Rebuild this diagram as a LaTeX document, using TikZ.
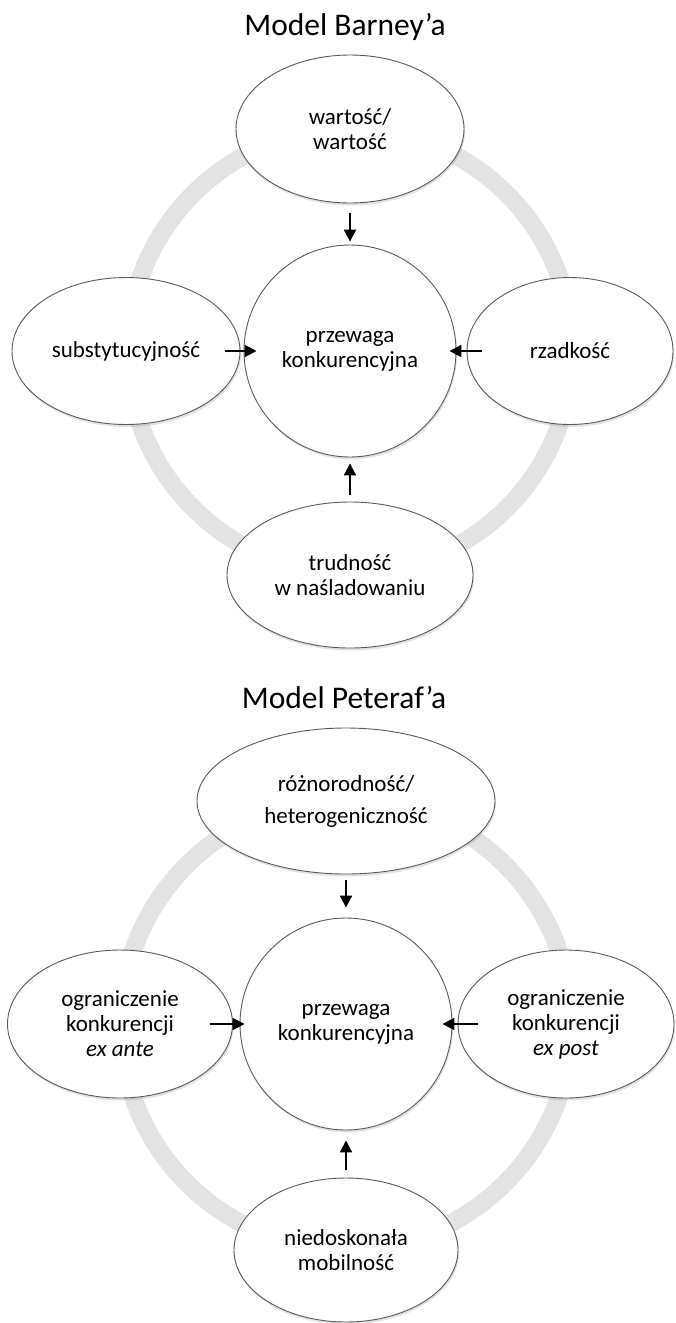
\documentclass[tikz,border=0pt]{standalone}
\usepackage{fontspec}
\setmainfont{Carlito}
\usetikzlibrary{shapes.geometric,arrows.meta,shadows}
\begin{document}
\begin{tikzpicture}[x=1pt,y=-1pt,
  ring/.style={draw=gray!22, line width=18pt},
  bubble/.style={ellipse, draw=black!65, line width=0.9pt, fill=white,
    inner sep=0pt, align=center, font=\fontsize{23}{25}\selectfont,
    drop shadow={opacity=0.22, shadow xshift=1pt, shadow yshift=-2.5pt}},
  core/.style={bubble, circle, minimum size=212pt},
  title/.style={font=\fontsize{31.5}{36}\selectfont, anchor=base},
  push/.style={-{Triangle[length=12pt,width=12pt]}, line width=2pt}
]
\useasboundingbox (0,0) rectangle (675,1323);

% ---------- Model Barney'a ----------
\node[title] (tb) at (345,35) {Model Barney’a};
\draw[ring] (350,351) circle[radius=222];
\node[core] (cb) at (350,351) {przewaga\\konkurencyjna};
\node[bubble, minimum width=228pt, minimum height=148pt] (nb) at (350,129) {wartość/\\wartość};
\node[bubble, minimum width=228pt, minimum height=147pt] (wb) at (126,351) {substytucyjność};
\node[bubble, minimum width=206pt, minimum height=147pt] (eb) at (570,351) {rzadkość};
\node[bubble, minimum width=246pt, minimum height=146pt] (sb) at (350,575) {trudność\\w naśladowaniu};

\draw[push] ([yshift=-10pt]nb.south) -- ([yshift=3pt]cb.north);
\draw[push] ([xshift=-15pt]wb.east) -- ([xshift=13pt]cb.west);
\draw[push] ([xshift=15pt]eb.west) -- ([xshift=-7pt]cb.east);
\draw[push] ([yshift=7pt]sb.north) -- ([yshift=-6pt]cb.south);

% ---------- Model Peteraf'a ----------
\node[title] (tp) at (344,708) {Model Peteraf’a};
\draw[ring] (346,1024) circle[radius=225];
\node[core] (cp) at (346,1024) {przewaga\\konkurencyjna};
\node[bubble, minimum width=298pt, minimum height=146pt] (np) at (346,801) {różnorodność/\\[7pt]heterogeniczność};
\node[bubble, minimum width=225pt, minimum height=148pt] (wp) at (120,1024) {ograniczenie\\konkurencji\\\textit{ex ante}};
\node[bubble, minimum width=216pt, minimum height=148pt] (ep) at (566,1024) {ograniczenie\\konkurencji\\\textit{ex post}};
\node[bubble, minimum width=224pt, minimum height=144pt] (sp) at (346,1250) {niedoskonała\\mobilność};

\draw[push] ([yshift=-6pt]np.south) -- ([yshift=10pt]cp.north);
\draw[push] ([xshift=-23pt]wp.east) -- ([xshift=5pt]cp.west);
\draw[push] ([xshift=20pt]ep.west) -- ([xshift=-10pt]cp.east);
\draw[push] ([yshift=8pt]sp.north) -- ([yshift=-10pt]cp.south);
\end{tikzpicture}
\end{document}
